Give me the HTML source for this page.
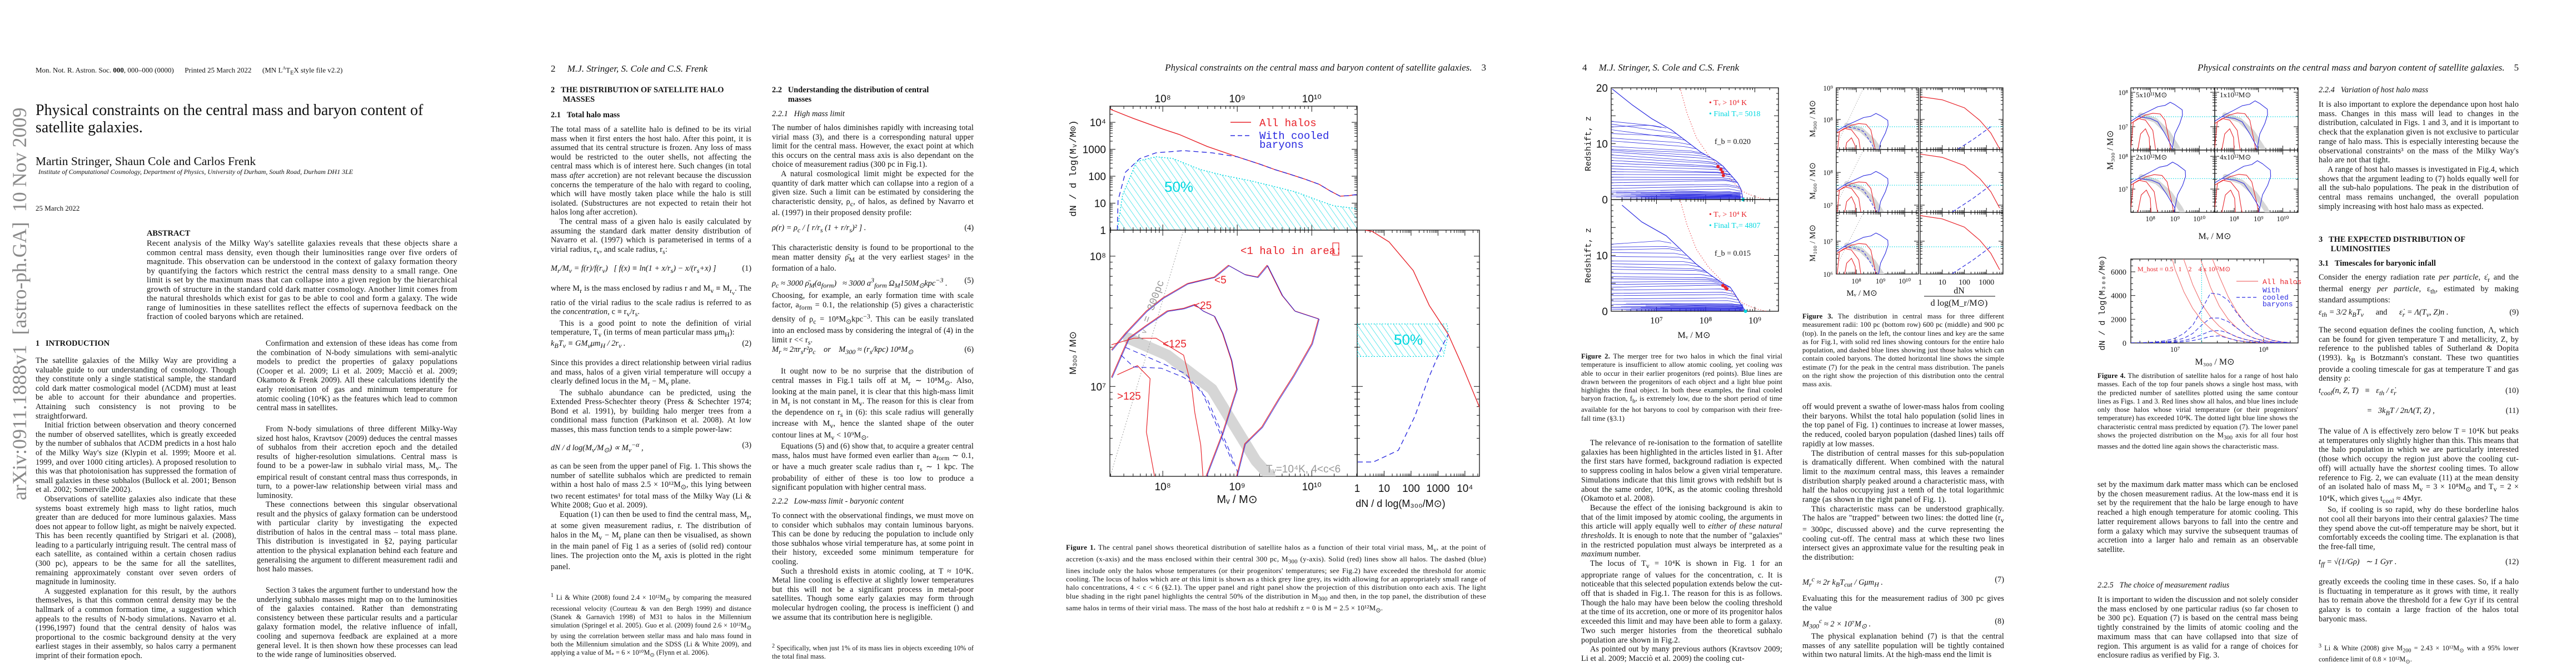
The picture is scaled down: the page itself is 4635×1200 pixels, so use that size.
<!DOCTYPE html>
<html><head><meta charset="utf-8">
<style>
body{margin:0;background:#fff;}
#page{position:relative;width:4635px;height:1200px;overflow:hidden;background:#fff;font-family:"Liberation Serif",serif;color:#111;}
.t{position:absolute;font-size:14.2px;letter-spacing:0.15px;line-height:16.6px;text-align:justify;hyphens:auto;}
.t p{margin:0;text-indent:16px;}
.t p.ni{text-indent:0;}
.cap{position:absolute;font-size:12.7px;letter-spacing:0.1px;line-height:15.3px;text-align:justify;}
.fn{position:absolute;font-size:12.1px;letter-spacing:0.1px;line-height:15.1px;text-align:justify;}
.h{position:absolute;font-size:14.4px;font-weight:bold;white-space:nowrap;}
.sh{position:absolute;font-size:14.4px;font-style:italic;white-space:nowrap;}
.eq{position:absolute;font-size:14.4px;white-space:nowrap;font-style:italic;}
.hdr{position:absolute;font-size:17px;font-style:italic;white-space:nowrap;}
svg text{font-family:"Liberation Sans",sans-serif;}
</style></head>
<body>
<div id="page">

<!-- PAGE 1 -->
<div style="position:absolute;left:64px;top:118px;font-size:13px;white-space:nowrap;">Mon. Not. R. Astron. Soc. <b>000</b>, 000–000 (0000) &nbsp;&nbsp;&nbsp;&nbsp; Printed 25 March 2022 &nbsp;&nbsp;&nbsp;&nbsp; (MN L<sup style="font-size:8px">A</sup>T<sub style="font-size:10px">E</sub>X style file v2.2)</div>
<div style="position:absolute;left:64px;top:183px;font-size:28px;line-height:31px;width:700px;">Physical constraints on the central mass and baryon content of satellite galaxies.</div>
<div style="position:absolute;left:64px;top:278px;font-size:21.5px;white-space:nowrap;">Martin Stringer, Shaun Cole and Carlos Frenk</div>
<div style="position:absolute;left:69px;top:302px;font-size:12px;font-style:italic;white-space:nowrap;">Institute of Computational Cosmology, Department of Physics, University of Durham, South Road, Durham DH1 3LE</div>
<div style="position:absolute;left:64px;top:367px;font-size:13px;">25 March 2022</div>
<div class="h" style="left:264px;top:412px;">ABSTRACT</div>
<div class="t" style="left:264px;top:430px;width:559px;line-height:16.5px;font-size:14.6px;letter-spacing:0.3px;"><p class="ni">Recent analysis of the Milky Way's satellite galaxies reveals that these objects share a common central mass density, even though their luminosities range over five orders of magnitude. This observation can be understood in the context of galaxy formation theory by quantifying the factors which restrict the central mass density to a small range. One limit is set by the maximum mass that can collapse into a given region by the hierarchical growth of structure in the standard cold dark matter cosmology. Another limit comes from the natural thresholds which exist for gas to be able to cool and form a galaxy. The wide range of luminosities in these satellites reflect the effects of supernova feedback on the fraction of cooled baryons which are retained.</p></div>
<div style="position:absolute;left:-275px;top:570px;width:620px;height:40px;transform:rotate(-90deg);font-size:36px;line-height:40px;color:#8a8a8a;white-space:nowrap;font-family:'Liberation Serif',serif;">arXiv:0911.1888v1 &nbsp;[astro-ph.GA] &nbsp;10 Nov 2009</div>
<div class="h" style="left:64px;top:610px;">1 &nbsp;&nbsp;INTRODUCTION</div>
<div class="t" style="left:64px;top:641px;width:361px;">
<p class="ni">The satellite galaxies of the Milky Way are providing a valuable guide to our understanding of cosmology. Though they constitute only a single statistical sample, the standard cold dark matter cosmological model (ΛCDM) must at least be able to account for their abundance and properties. Attaining such consistency is not proving to be straightforward.</p>
<p>Initial friction between observation and theory concerned the number of observed satellites, which is greatly exceeded by the number of subhalos that ΛCDM predicts in a host halo of the Milky Way's size (Klypin et al. 1999; Moore et al. 1999, and over 1000 citing articles). A proposed resolution to this was that photoionisation has suppressed the formation of small galaxies in these subhalos (Bullock et al. 2001; Benson et al. 2002; Somerville 2002).</p>
<p>Observations of satellite galaxies also indicate that these systems boast extremely high mass to light ratios, much greater than are deduced for more luminous galaxies. Mass does not appear to follow light, as might be naively expected. This has been recently quantified by Strigari et al. (2008), leading to a particularly intriguing result. The central mass of each satellite, as contained within a certain chosen radius (300 pc), appears to be the same for all the satellites, remaining approximately constant over seven orders of magnitude in luminosity.</p>
<p>A suggested explanation for this result, by the authors themselves, is that this common central density may be the hallmark of a common formation time, a suggestion which appeals to the results of N-body simulations. Navarro et al. (1996,1997) found that the central density of halos was proportional to the cosmic background density at the very earliest stages in their assembly, so halos carry a permanent imprint of their formation epoch.</p></div>
<div class="t" style="left:462px;top:610px;width:361px;"><p>Confirmation and extension of these ideas has come from the combination of N-body simulations with semi-analytic models to predict the properties of galaxy populations (Cooper et al. 2009; Li et al. 2009; Macciò et al. 2009; Okamoto &amp; Frenk 2009). All these calculations identify the early reionisation of gas and minimum temperature for atomic cooling (10⁴K) as the features which lead to common central mass in satellites.</p></div>
<div class="t" style="left:462px;top:764px;width:361px;"><p>From N-body simulations of three different Milky-Way sized host halos, Kravtsov (2009) deduces the central masses of subhalos from their accretion epoch and the detailed results of higher-resolution simulations. Central mass is found to be a power-law in subhalo virial mass, M<sub>v</sub>. The empirical result of constant central mass thus corresponds, in turn, to a power-law relationship between virial mass and luminosity.</p></div>
<div class="t" style="left:462px;top:900px;width:361px;"><p>These connections between this singular observational result and the physics of galaxy formation can be understood with particular clarity by investigating the expected distribution of halos in the central mass – total mass plane. This distribution is investigated in §2, paying particular attention to the physical explanation behind each feature and generalising the argument to different measurement radii and host halo masses.</p></div>
<div class="t" style="left:462px;top:1054px;width:361px;"><p>Section 3 takes the argument further to understand how the underlying subhalo masses might map on to the luminosities of the galaxies contained. Rather than demonstrating consistency between these particular results and a particular galaxy formation model, the relative influence of infall, cooling and supernova feedback are explained at a more general level. It is then shown how these processes can lead to the wide range of luminosities observed.</p></div>

<!-- PAGE 2 -->
<div class="hdr" style="left:991px;top:114px;"><span style="font-style:normal">2</span>&nbsp;&nbsp;&nbsp;&nbsp; M.J. Stringer, S. Cole and C.S. Frenk</div>
<div class="h" style="left:991px;top:154px;line-height:16.6px;">2 &nbsp;&nbsp;THE DISTRIBUTION OF SATELLITE HALO<br>&nbsp;&nbsp;&nbsp;&nbsp;&nbsp; MASSES</div>
<div class="h" style="left:991px;top:199px;">2.1 &nbsp;&nbsp;Total halo mass</div>
<div class="t" style="left:991px;top:225px;width:361px;">
<p class="ni">The total mass of a satellite halo is defined to be its virial mass when it first enters the host halo. After this point, it is assumed that its central structure is frozen. Any loss of mass would be restricted to the outer shells, not affecting the central mass which is of interest here. Such changes (in total mass <i>after</i> accretion) are not relevant because the discussion concerns the temperature of the halo with regard to cooling, which will have mostly taken place while the halo is still isolated. (Substructures are not expected to retain their hot halos long after accretion).</p>
<p>The central mass of a given halo is easily calculated by assuming the standard dark matter density distribution of Navarro et al. (1997) which is parameterised in terms of a virial radius, r<sub>v</sub>, and scale radius, r<sub>s</sub>:</p></div>
<div class="eq" style="left:991px;top:475px;width:361px;">M<sub>r</sub>/M<sub>v</sub> = f(r)/f(r<sub>v</sub>) &nbsp; [ f(x) ≡ ln(1 + x/r<sub>s</sub>) − x/(r<sub>s</sub>+x) ]<span style="position:absolute;right:0;font-style:normal">(1)</span></div>
<div class="t" style="left:991px;top:511px;width:361px;"><p class="ni">where M<sub>r</sub> is the mass enclosed by radius r and M<sub>v</sub> ≡ M<sub>r<sub>v</sub></sub>. The ratio of the virial radius to the scale radius is referred to as the <i>concentration</i>, c ≡ r<sub>v</sub>/r<sub>s</sub>.</p><p>This is a good point to note the definition of virial temperature, T<sub>v</sub> (in terms of mean particular mass μm<sub>H</sub>):</p></div>
<div class="eq" style="left:991px;top:610px;width:361px;">k<sub>B</sub>T<sub>v</sub> ≡ GM<sub>v</sub>μm<sub>H</sub> / 2r<sub>v</sub> .<span style="position:absolute;right:0;font-style:normal">(2)</span></div>
<div class="t" style="left:991px;top:645px;width:361px;"><p class="ni">Since this provides a direct relationship between virial radius and mass, halos of a given virial temperature will occupy a clearly defined locus in the M<sub>r</sub> − M<sub>v</sub> plane.</p><p>The subhalo abundance can be predicted, using the Extended Press-Schechter theory (Press &amp; Schechter 1974; Bond et al. 1991), by building halo merger trees from a conditional mass function (Parkinson et al. 2008). At low masses, this mass function tends to a simple power-law:</p></div>
<div class="eq" style="left:991px;top:793px;width:361px;">dN / d log(M<sub>v</sub>/M<sub>⊙</sub>) ∝ M<sub>v</sub><sup>−α</sup> ,<span style="position:absolute;right:0;font-style:normal">(3)</span></div>
<div class="t" style="left:991px;top:831px;width:361px;"><p class="ni">as can be seen from the upper panel of Fig. 1. This shows the number of satellite subhalos which are predicted to remain within a host halo of mass 2.5 × 10¹²M<sub>⊙</sub>, this lying between two recent estimates¹ for total mass of the Milky Way (Li &amp; White 2008; Guo et al. 2009).</p><p>Equation (1) can then be used to find the central mass, M<sub>r</sub>, at some given measurement radius, r. The distribution of halos in the M<sub>v</sub> − M<sub>r</sub> plane can then be visualised, as shown in the main panel of Fig 1 as a series of (solid red) contour lines. The projection onto the M<sub>r</sub> axis is plotted in the right panel.</p></div>
<div class="fn" style="left:991px;top:1064px;width:361px;"><sup>1</sup> Li &amp; White (2008) found 2.4 × 10¹²M<sub>⊙</sub> by comparing the measured recessional velocity (Courteau &amp; van den Bergh 1999) and distance (Stanek &amp; Garnavich 1998) of M31 to halos in the Millennium simulation (Springel et al. 2005). Guo et al. (2009) found 2.6 × 10¹²M<sub>⊙</sub> by using the correlation between stellar mass and halo mass found in both the Millennium simulation and the SDSS (Li &amp; White 2009), and applying a value of M<sub>*</sub> = 6 × 10¹⁰M<sub>⊙</sub> (Flynn et al. 2006).</div>

<div class="h" style="left:1389px;top:154px;line-height:16.6px;">2.2 &nbsp;&nbsp;Understanding the distribution of central<br>&nbsp;&nbsp;&nbsp;&nbsp;&nbsp;&nbsp;&nbsp; masses</div>
<div class="sh" style="left:1389px;top:197px;">2.2.1 &nbsp;&nbsp;High mass limit</div>
<div class="t" style="left:1389px;top:222px;width:363px;"><p class="ni">The number of halos diminishes rapidly with increasing total virial mass (3), and there is a corresponding natural upper limit for the central mass. However, the exact point at which this occurs on the central mass axis is also dependant on the choice of measurement radius (300 pc in Fig.1).</p><p>A natural cosmological limit might be expected for the quantity of dark matter which can collapse into a region of a given size. Such a limit can be estimated by considering the characteristic density, ρ<sub>c</sub>, of halos, as defined by Navarro et al. (1997) in their proposed density profile:</p></div>
<div class="eq" style="left:1389px;top:402px;width:363px;">ρ(r) = ρ<sub>c</sub> / [ r/r<sub>s</sub> (1 + r/r<sub>s</sub>)² ] .<span style="position:absolute;right:0;font-style:normal">(4)</span></div>
<div class="t" style="left:1389px;top:438px;width:363px;"><p class="ni">This characteristic density is found to be proportional to the mean matter density ρ̄<sub>M</sub> at the very earliest stages² in the formation of a halo.</p></div>
<div class="eq" style="left:1389px;top:497px;width:363px;">ρ<sub>c</sub> ≈ 3000 ρ̄<sub>M</sub>(a<sub>form</sub>) &nbsp; ≈ 3000 a<sup>3</sup><sub>form</sub> Ω<sub>M</sub>150M<sub>⊙</sub>kpc<sup>−3</sup> .<span style="position:absolute;right:0;font-style:normal">(5)</span></div>
<div class="t" style="left:1389px;top:524px;width:363px;"><p class="ni">Choosing, for example, an early formation time with scale factor, a<sub>form</sub> = 0.1, the relationship (5) gives a characteristic density of ρ<sub>c</sub> = 10⁸M<sub>⊙</sub>kpc<sup>−3</sup>. This can be easily translated into an enclosed mass by considering the integral of (4) in the limit r &lt;&lt; r<sub>s</sub>.</p></div>
<div class="eq" style="left:1389px;top:621px;width:363px;">M<sub>r</sub> ≈ 2πr<sub>s</sub>r²ρ<sub>c</sub> &nbsp;&nbsp; or &nbsp;&nbsp; M<sub>300</sub> ≈ (r<sub>s</sub>/kpc) 10⁸M<sub>⊙</sub><span style="position:absolute;right:0;font-style:normal">(6)</span></div>
<div class="t" style="left:1389px;top:660px;width:363px;"><p>It ought now to be no surprise that the distribution of central masses in Fig.1 tails off at M<sub>r</sub> ∼ 10⁸M<sub>⊙</sub>. Also, looking at the main panel, it is clear that this high-mass limit in M<sub>r</sub> is not constant in M<sub>v</sub>. The reason for this is clear from the dependence on r<sub>s</sub> in (6): this scale radius will generally increase with M<sub>v</sub>, hence the slanted shape of the outer contour lines at M<sub>v</sub> &lt; 10⁹M<sub>⊙</sub>.</p><p>Equations (5) and (6) show that, to acquire a greater central mass, halos must have formed even earlier than a<sub>form</sub> ∼ 0.1, or have a much greater scale radius than r<sub>s</sub> ∼ 1 kpc. The probability of either of these is too low to produce a significant population with higher central mass.</p></div>
<div class="sh" style="left:1389px;top:894px;">2.2.2 &nbsp;&nbsp;Low-mass limit - baryonic content</div>
<div class="t" style="left:1389px;top:920px;width:363px;"><p class="ni">To connect with the observational findings, we must move on to consider which subhalos may contain luminous baryons. This can be done by reducing the population to include only those subhalos whose virial temperature has, at some point in their history, exceeded some minimum temperature for cooling.</p><p>Such a threshold exists in atomic cooling, at T ≈ 10⁴K. Metal line cooling is effective at slightly lower temperatures but this will not be a significant process in metal-poor satellites. Though some early galaxies may form through molecular hydrogen cooling, the process is inefficient () and we assume that its contribution here is negligible.</p></div>
<div class="fn" style="left:1389px;top:1155px;width:363px;"><sup>2</sup> Specifically, when just 1% of its mass lies in objects exceeding 10% of the total final mass.</div>

<!-- PAGE 3 -->
<div class="hdr" style="right:1961px;top:112px;">Physical constraints on the central mass and baryon content of satellite galaxies. &nbsp;&nbsp;&nbsp;<span style="font-style:normal">3</span></div>
<div class="cap" style="left:1918px;top:977px;width:756px;font-size:13px;letter-spacing:0.25px;"><b>Figure 1.</b> The central panel shows theoretical distribution of satellite halos as a function of their total virial mass, M<sub>v</sub>, at the point of accretion (x-axis) and the mass enclosed within their central 300 pc, M<sub>300</sub> (y-axis). Solid (red) lines show all halos. The dashed (blue) lines include only the halos whose temperatures (or their progenitors' temperatures; see Fig.2) have exceeded the threshold for atomic cooling. The locus of halos which are <i>at</i> this limit is shown as a thick grey line grey, its width allowing for an appropriately small range of halo concentrations, 4 &lt; c &lt; 6 (§2.1). The upper panel and right panel show the projection of this distribution onto each axis. The light blue shading in the right panel highlights the central 50% of the distribution in M<sub>300</sub> and then, in the top panel, the distribution of these same halos in terms of their virial mass. The mass of the host halo at redshift z = 0 is M = 2.5 × 10¹²M<sub>⊙</sub>.</div>

<!-- PAGE 4 -->
<div class="hdr" style="left:2847px;top:112px;"><span style="font-style:normal">4</span>&nbsp;&nbsp;&nbsp;&nbsp; M.J. Stringer, S. Cole and C.S. Frenk</div>
<div class="cap" style="left:2845px;top:634px;width:362px;"><b>Figure 2.</b> The merger tree for two halos in which the final virial temperature is insufficient to allow atomic cooling, yet cooling <i>was</i> able to occur in their earlier progenitors (red points). Blue lines are drawn between the progenitors of each object and a light blue point highlights the final object. In both these examples, the final cooled baryon fraction, f<sub>b</sub>, is extremely low, due to the short period of time available for the hot baryons to cool by comparison with their free-fall time (§3.1)</div>
<div class="t" style="left:2845px;top:789px;width:362px;line-height:16.7px;"><p>The relevance of re-ionisation to the formation of satellite galaxies has been highlighted in the articles listed in §1. After the first stars have formed, background radiation is expected to suppress cooling in halos below a given virial temperature. Simulations indicate that this limit grows with redshift but is about the same order, 10⁴K, as the atomic cooling threshold (Okamoto et al. 2008).</p><p>Because the effect of the ionising background is akin to that of the limit imposed by atomic cooling, the arguments in this article will apply equally well to <i>either of these natural thresholds</i>. It is enough to note that the number of "galaxies" in the restricted population must always be interpreted as a <i>maximum</i> number.</p><p>The locus of T<sub>v</sub> = 10⁴K is shown in Fig. 1 for an appropriate range of values for the concentration, c. It is noticeable that this selected population extends below the cut-off that is shaded in Fig.1. The reason for this is as follows. Though the halo may have been below the cooling threshold at the time of its accretion, one or more of its progenitor halos exceeded this limit and may have been able to form a galaxy. Two such merger histories from the theoretical subhalo population are shown in Fig.2.</p><p>As pointed out by many previous authors (Kravtsov 2009; Li et al. 2009; Macciò et al. 2009) the cooling cut-</p></div>
<div class="cap" style="left:3243px;top:562px;width:363px;"><b>Figure 3.</b> The distribution in central mass for three different measurement radii: 100 pc (bottom row) 600 pc (middle) and 900 pc (top). In the panels on the left, the contour lines and key are the same as for Fig.1, with solid red lines showing contours for the entire halo population, and dashed blue lines showing just those halos which can contain cooled baryons. The dotted horizontal line shows the simple estimate (7) for the peak in the central mass distribution. The panels on the right show the projection of this distribution onto the central mass axis.</div>
<div class="t" style="left:3243px;top:724px;width:363px;line-height:16.7px;"><p class="ni">off would prevent a swathe of lower-mass halos from cooling their baryons. Whilst the total halo population (solid lines in the top panel of Fig. 1) continues to increase at lower masses, the reduced, cooled baryon population (dashed lines) tails off rapidly at low masses.</p><p>The distribution of central masses for this sub-population is dramatically different. When combined with the natural limit to the <i>maximum</i> central mass, this leaves a remainder distribution sharply peaked around a characteristic mass, with half the halos occupying just a tenth of the total logarithmic range (as shown in the right panel of Fig. 1).</p><p>This characteristic mass can be understood graphically. The halos are "trapped" between two lines: the dotted line (r<sub>v</sub> = 300pc, discussed above) and the curve representing the cooling cut-off. The central mass at which these two lines intersect gives an approximate value for the resulting peak in the distribution:</p></div>
<div class="eq" style="left:3243px;top:1035px;width:363px;">M<sub>r</sub><sup>c</sup> ≈ 2r k<sub>B</sub>T<sub>cut</sub> / Gμm<sub>H</sub> .<span style="position:absolute;right:0;font-style:normal">(7)</span></div>
<div class="t" style="left:3243px;top:1069px;width:363px;line-height:16.7px;"><p class="ni">Evaluating this for the measurement radius of 300 pc gives the value</p></div>
<div class="eq" style="left:3243px;top:1110px;width:363px;">M<sub>300</sub><sup>c</sup> ≈ 2 × 10⁷M<sub>⊙</sub> .<span style="position:absolute;right:0;font-style:normal">(8)</span></div>
<div class="t" style="left:3243px;top:1137px;width:363px;line-height:16.7px;"><p>The physical explanation behind (7) is that the central masses of any satellite population will be tightly contained within two natural limits. At the high-mass end the limit is</p></div>

<!-- PAGE 5 -->
<div class="hdr" style="right:103px;top:112px;">Physical constraints on the central mass and baryon content of satellite galaxies. &nbsp;&nbsp;&nbsp;<span style="font-style:normal">5</span></div>
<div class="cap" style="left:3774px;top:669px;width:361px;"><b>Figure 4.</b> The distribution of satellite halos for a range of host halo masses. Each of the top four panels shows a single host mass, with the predicted number of satellites plotted using the same contour lines as Figs. 1 and 3. Red lines show all halos, and blue lines include only those halos whose virial temperature (or their progenitors' temperature) has exceeded 10⁴K. The dotted light blue line shows the characteristic central mass predicted by equation (7). The lower panel shows the projected distribution on the M<sub>300</sub> axis for all four host masses and the dotted line again shows the characteristic mass.</div>
<div class="t" style="left:3774px;top:864px;width:361px;line-height:16.7px;"><p class="ni">set by the maximum dark matter mass which can be enclosed by the chosen measurement radius. At the low-mass end it is set by the requirement that the halo be large enough to have reached a high enough temperature for atomic cooling. This latter requirement allows baryons to fall into the centre and form a galaxy which may survive the subsequent traumas of accretion into a larger halo and remain as an observable satellite.</p></div>
<div class="sh" style="left:3774px;top:1045px;">2.2.5 &nbsp;&nbsp;The choice of measurement radius</div>
<div class="t" style="left:3774px;top:1071px;width:361px;line-height:16.7px;"><p class="ni">It is important to widen the discussion and not solely consider the mass enclosed by one particular radius (so far chosen to be 300 pc). Equation (7) is based on the central mass being tightly constrained by the limits of atomic cooling and the maximum mass that can have collapsed into that size of region. This argument is as valid for a range of choices for enclosure radius as verified by Fig. 3.</p></div>
<div class="sh" style="left:4172px;top:154px;">2.2.4 &nbsp;&nbsp;Variation of host halo mass</div>
<div class="t" style="left:4172px;top:180px;width:360px;line-height:16.7px;"><p class="ni">It is also important to explore the dependance upon host halo mass. Changes in this mass will lead to changes in the distribution, calculated in Figs. 1 and 3, and it is important to check that the explanation given is not exclusive to particular range of halo mass. This is especially interesting because the observational constraints³ on the mass of the Milky Way's halo are not that tight.</p><p>A range of host halo masses is investigated in Fig.4, which shows that the argument leading to (7) holds equally well for all the sub-halo populations. The peak in the distribution of central mass remains unchanged, the overall population simply increasing with host halo mass as expected.</p></div>
<div class="h" style="left:4172px;top:423px;line-height:16.6px;">3 &nbsp;&nbsp;THE EXPECTED DISTRIBUTION OF<br>&nbsp;&nbsp;&nbsp;&nbsp;&nbsp; LUMINOSITIES</div>
<div class="h" style="left:4172px;top:466px;">3.1 &nbsp;&nbsp;Timescales for baryonic infall</div>
<div class="t" style="left:4172px;top:491px;width:360px;line-height:16.7px;"><p class="ni">Consider the energy radiation rate <i>per particle</i>, ε̇<sub>r</sub> and the thermal energy <i>per particle</i>, ε<sub>th</sub>, estimated by making standard assumptions:</p></div>
<div class="eq" style="left:4172px;top:554px;width:360px;">ε<sub>th</sub> = 3/2 k<sub>B</sub>T<sub>v</sub> &nbsp;&nbsp;&nbsp;&nbsp; <span style="font-style:normal">and</span> &nbsp;&nbsp;&nbsp;&nbsp; ε̇<sub>r</sub> = Λ(T<sub>v</sub>, Z)n .<span style="position:absolute;right:0;font-style:normal">(9)</span></div>
<div class="t" style="left:4172px;top:586px;width:360px;line-height:16.7px;"><p class="ni">The second equation defines the cooling function, Λ, which can be found for given temperature T and metallicity, Z, by reference to the published tables of Sutherland &amp; Dopita (1993). k<sub>B</sub> is Botzmann's constant. These two quantities provide a cooling timescale for gas at temperature T and gas density ρ:</p></div>
<div class="eq" style="left:4172px;top:695px;width:360px;">t<sub>cool</sub>(n, Z, T) &nbsp;&nbsp;≡&nbsp;&nbsp; ε<sub>th</sub> / ε̇<sub>r</sub><span style="position:absolute;right:0;font-style:normal">(10)</span></div>
<div class="eq" style="left:4172px;top:731px;width:360px;">&nbsp;&nbsp;&nbsp;&nbsp;&nbsp;&nbsp;&nbsp;&nbsp;&nbsp;&nbsp;&nbsp;&nbsp;&nbsp;&nbsp;&nbsp;&nbsp;&nbsp;&nbsp;&nbsp;&nbsp;&nbsp;&nbsp;&nbsp; = &nbsp; 3k<sub>B</sub>T / 2nΛ(T, Z) ,<span style="position:absolute;right:0;font-style:normal">(11)</span></div>
<div class="t" style="left:4172px;top:768px;width:360px;line-height:16.7px;"><p class="ni">The value of Λ is effectively zero below T = 10⁴K but peaks at temperatures only slightly higher than this. This means that the halo population in which we are particularly interested (those which occupy the region just above the cooling cut-off) will actually have the <i>shortest</i> cooling times. To allow reference to Fig. 2, we can evaluate (11) at the mean density of an isolated halo of mass M<sub>v</sub> = 3 × 10⁸M<sub>⊙</sub> and T<sub>v</sub> = 2 × 10⁴K, which gives t<sub>cool</sub> ≈ 4Myr.</p><p>So, if cooling is so rapid, why do these borderline halos not cool all their baryons into their central galaxies? The time they spend above the cut-off temperature may be short, but it comfortably exceeds the cooling time. The explanation is that the free-fall time,</p></div>
<div class="eq" style="left:4172px;top:1003px;width:360px;">t<sub>ff</sub> = √(1/Gρ) &nbsp; ∼ 1 Gyr .<span style="position:absolute;right:0;font-style:normal">(12)</span></div>
<div class="t" style="left:4172px;top:1039px;width:360px;line-height:16.7px;"><p class="ni">greatly exceeds the cooling time in these cases. So, if a halo is fluctuating in temperature as it grows with time, it really has to remain above the threshold for a few Gyr if its central galaxy is to contain a large fraction of the halos total baryonic mass.</p></div>
<div class="fn" style="left:4172px;top:1155px;width:360px;"><sup>3</sup> Li &amp; White (2008) give M<sub>200</sub> = 2.43 × 10¹²M<sub>⊙</sub> with a 95% lower confidence limit of 0.8 × 10¹²M<sub>⊙</sub>.</div>

<svg id="figures" width="4635" height="1200" style="position:absolute;left:0;top:0;" xmlns="http://www.w3.org/2000/svg">
<defs>
<pattern id="hatch" patternUnits="userSpaceOnUse" width="9" height="9" patternTransform="rotate(-35)"><line x1="0" y1="0" x2="0" y2="9" stroke="#00d8e0" stroke-width="1.2"/></pattern>
</defs>
</svg>
</div>

<script>
// ---------------- DATA ----------------
const fig1AllHalos = [[7.29,4.49],[7.6,4.15],[8.0,3.75],[8.22,3.55],[8.6,3.1],[9.0,2.72],[9.3,2.45],[9.5,2.25],[9.7,2.08],[9.9,1.9],[10.1,1.7],[10.25,1.45],[10.38,1.26],[10.5,1.28],[10.6,1.32]];
const fig1Cooled = [[7.39,0],[7.4,1.1],[7.5,2.15],[7.69,2.65],[7.91,2.87],[8.28,2.95],[8.66,2.87],[9.0,2.72],[9.3,2.45],[9.5,2.25],[9.7,2.08],[9.9,1.9],[10.1,1.7],[10.25,1.45],[10.38,1.26],[10.5,1.28],[10.6,1.32]];
const fig1Central50 = [[7.39,0],[7.46,1.3],[7.65,2.55],[7.91,2.72],[8.13,2.66],[8.5,2.25],[8.8,2.04],[9.18,1.83],[9.48,1.63],[9.78,1.42],[10.08,1.11],[10.3,0.9],[10.6,0.8]];
const fig1TopXTicks = [8,9,10];
const fig1TopXLabels = ['10⁸','10⁹','10¹⁰'];
const fig1TopYTicks = [0,1,2,3,4];
const fig1TopYLabels = ['1','10','100','1000','10⁴'];
const fig1Contour5 = [[7.31,7.28],[7.50,7.41],[7.78,7.58],[8.0,7.68],[8.33,7.79],[8.69,7.84],[8.88,7.93],[9.10,7.86],[9.27,7.84],[9.40,7.93],[9.60,7.70],[9.77,7.58],[10.09,7.52],[10.0,7.33],[9.75,7.08],[9.55,6.90],[9.33,6.69],[9.10,6.56],[8.99,6.31]];
const fig1Contour25 = [[7.31,7.07],[7.54,7.37],[7.78,7.47],[8.06,7.58],[8.28,7.60],[8.43,7.63],[8.54,7.58],[8.69,7.54],[8.80,7.41],[8.92,7.20],[8.99,6.98],[8.80,6.64],[8.58,6.31]];
const fig1Contour125 = [[7.31,7.32],[7.61,7.37],[7.91,7.37],[8.28,7.24],[8.39,6.99],[8.43,6.80],[8.51,6.55],[8.54,6.31]];
const fig1ContourOver125 = [[7.39,7.09],[7.66,7.16],[7.83,7.06],[7.78,6.65],[7.89,6.31]];
const fig1CooledContourA = [[7.44,7.24],[7.61,7.15],[7.98,7.14],[8.28,7.07],[8.51,6.98],[8.80,6.60],[8.95,6.40]];
const fig1CooledContourB = [[7.5,7.30],[7.9,7.2],[8.3,7.1],[8.6,6.9],[8.9,6.5],[9.0,6.35]];
const fig1CoolingLocus = [[7.54,7.37],[8.06,7.24],[8.66,6.98],[9.25,6.43],[9.44,6.31]];
const fig1Rv300 = [[7.31,6.34],[8.28,8.2]];
const fig1MainYTicks = [7,8];
const fig1MainYLabels = ['10⁷','10⁸'];
const fig1RightAll = [[0.3,8.2],[0.56,8.19],[1.18,8.11],[2.08,7.89],[2.68,7.62],[3.38,7.40],[3.92,7.15],[4.56,6.83]];
const fig1RightCooled = [[0.02,6.42],[0.6,6.42],[1.53,6.51],[2.14,6.77],[2.66,7.07],[3.18,7.32],[3.38,7.40]];
const fig1RightBand = [[0,7.23],[3.2,7.23],[3.38,7.40],[3.34,7.48],[0,7.48]];
const fig1RightXTicks = [0,1,2,3,4];
const fig1RightXLabels = ['1','10','100','1000','10⁴'];
const fig2TrunkA = [[6.1,19.8],[6.5,17],[6.9,14.5],[7.3,12.5],[7.6,10.5],[7.9,8.5],[8.2,7],[8.35,6],[8.45,5],[8.55,4],[8.65,3],[8.72,1.8],[8.76,0]];
const fig2BranchesA = [[14,7.2,12.8],[13.5,7.4,11.8],[13,7.1,12.9],[12.5,7.6,10.6],[11.8,7.5,11],[11,7.7,9.8],[10.5,7.8,9.1],[9.5,7.95,8.3],[9,8.0,8.0],[8.8,8.1,7.5],[8.5,8.2,7.0],[8,8.3,6.4],[7.5,8.33,6.1],[7,8.38,5.6],[6.5,8.4,5.4],[6,8.45,5],[5.5,8.5,4.5],[5,8.5,4.4],[4.5,8.55,4],[4,8.6,3.5],[3.5,8.62,3.2],[3,8.65,3],[2.5,8.68,2.3],[2,8.7,2],[1.5,8.72,1.5],[1.2,8.74,1],[0.8,8.75,0.5],[0.5,8.76,0.3]];
const fig2HotA = [[8.25,5.9],[8.31,5.4],[8.34,4.9],[8.36,4.3]];
const fig2FinalA = [8.76,0];
const fig2TrunkB = [[6.3,19],[6.7,16],[7.2,13.5],[7.5,11],[7.8,8.5],[8.1,6.5],[8.35,5],[8.5,4.3],[8.6,3],[8.7,1.5],[8.81,0]];
const fig2BranchesB = [[12,7.3,12.2],[11.5,7.45,11.2],[11,7.5,10.8],[10.5,7.6,10],[9.8,7.7,9.3],[9,7.8,8.5],[8.5,7.9,7.9],[8,8.0,7.2],[7.5,8.05,6.9],[6.8,8.15,6.2],[6.2,8.25,5.6],[5.8,8.3,5.3],[5.2,8.35,5],[4.8,8.45,4.6],[4.3,8.5,4.3],[3.8,8.55,3.6],[3.2,8.6,3],[2.8,8.63,2.6],[2.2,8.67,2],[1.8,8.7,1.5],[1.2,8.74,1],[0.7,8.77,0.6],[0.3,8.8,0.2]];
const fig2HotB = [[8.35,4.6],[8.4,4.3],[8.43,4.0]];
const fig2FinalB = [8.81,0];
const fig2Cutoff = [[7.48,20],[7.62,15.5],[7.81,11.1],[8.05,8],[8.32,5.5],[8.55,3.2],[8.74,1.5],[9.0,0.5],[9.23,0]];
const fig2XTicks = [7,8,9];
const fig2XLabels = ['10⁷','10⁸','10⁹'];
const fig2FinalT = ['5018','4807'];
const fig2Fb = ['0.020','0.015'];
const shapeBlue = [[7.2,-0.13],[7.6,0.05],[7.9,0.15],[8.3,0.29],[8.6,0.33],[8.81,0.42],[9.0,0.35],[9.3,0.2],[9.31,0.05],[9.2,-0.2],[9.0,-0.5],[8.9,-0.9],[8.8,-1.3]];
const shapeRed1 = [[7.2,-0.9],[7.3,-0.15],[7.8,0.05],[8.1,0.1],[8.4,0.08],[8.6,-0.1],[8.8,-0.8],[8.9,-1.3]];
const shapeRed2 = [[7.2,-0.2],[7.5,-0.05],[7.8,-0.1],[8.1,-0.4],[8.2,-0.9],[8.3,-1.3]];
const shapeRed3 = [[7.4,-1.3],[7.6,-0.5],[7.8,-0.35],[7.95,-0.6],[8.0,-1.3]];
const shapeBand = [[7.6,0.05],[8.2,-0.1],[8.7,-0.45],[9.1,-0.9],[9.3,-1.2]];
const shapeBlueInner = [[7.5,0],[8.0,-0.05],[8.3,-0.15],[8.6,-0.5],[8.9,-0.9]];
const fig3CharMass = [7.77,7.61,6.83];
const fig3RowTop = [9.0,8.7,7.88];
const fig3RowBottom = [7.05,6.78,6.0];
const fig3RowLabels = ['M₉₀₀ / M⊙','M₆₀₀ / M⊙','M₁₀₀ / M⊙'];
const fig3YTickVals = [[9,8],[8,7],[7,6]];
const fig3YTickLabels = [['10⁹','10⁸'],['10⁸','10⁷'],['10⁷','10⁶']];
const fig3ProjAll = [[0,0.95],[1,0.85],[2,0.6],[2.7,0.2],[3.2,-0.2],[3.6,-0.7]];
const fig3ProjCooled = [[0.5,-1.2],[1.5,-0.8],[2.4,-0.4],[3.0,-0.1],[3.2,0]];
const fig3XTicks = [8,9,10];
const fig3XLabels = ['10⁸','10⁹','10¹⁰'];
const fig3ProjXTicks = [0,1,2,3];
const fig3ProjXLabels = ['1','10','100','1000'];
const fig4HostLabels = ['5x10¹¹M⊙','1x10¹²M⊙','2x10¹²M⊙','4x10¹²M⊙'];
const fig4CharMass = [7.29,7.29,7.32,7.32];
const fig4Broaden = [0,0.1,0.2,0.3];
const fig4Bins = [6.5,6.6,6.7,6.8,6.9,7.0,7.1,7.2,7.3,7.4,7.5,7.6,7.7,7.8,7.9,8.0,8.1,8.2,8.3];
const fig4AllA = [40000,25000,17000,12000,9000,6200,4300,2900,1900,1200,700,400,200,100,50,20,10,5,2];
const fig4AllB = [70000,45000,28000,18000,12000,9000,7000,4900,3300,2200,1400,850,500,280,140,70,30,10,5];
const fig4AllC = [90000,60000,40000,26000,17000,13000,10000,9000,6800,4700,3100,2000,1250,700,380,190,80,30,10];
const fig4AllD = [120000,80000,55000,38000,27000,20000,15000,11000,9000,7500,5600,3900,2600,1600,900,480,220,90,30];
const fig4CoolA = [1,3,6,12,25,50,100,200,350,550,600,400,200,100,50,20,10,5,2];
const fig4CoolB = [2,5,10,25,50,100,200,400,700,1000,1050,850,500,280,140,70,30,10,5];
const fig4CoolC = [3,8,20,50,100,200,400,800,1500,2100,2100,1800,1250,700,380,190,80,30,10];
const fig4CoolD = [5,15,40,100,200,400,800,1500,2800,4200,4100,3600,2500,1600,900,480,220,90,30];
const fig4CharLine = 7.3;
const fig4YTicks = [0,2000,4000,6000];
const fig4XTicks = [7,8];
const fig4XLabels = ['10⁷','10⁸'];

// ---------------- DRAWING ----------------
const NS='http://www.w3.org/2000/svg';
const root=document.getElementById('figures');
let clipN=0;
function mk(tag,parent){const e=document.createElementNS(NS,tag);parent.appendChild(e);return e;}
function lin(d0,d1,p0,p1){return v=>p0+(v-d0)/(d1-d0)*(p1-p0);}
function group(parent,name){const g=mk('g',parent);


return g;}
function clipped(parent,name,x0,y0,x1,y1){
  const id='clip'+(clipN++);
  const cp=mk('clipPath',root.querySelector('defs'));cp.setAttribute('id',id);
  const r=mk('rect',cp);r.setAttribute('x',x0);r.setAttribute('y',y0);r.setAttribute('width',x1-x0);r.setAttribute('height',y1-y0);
  const g=group(parent,name);g.setAttribute('clip-path','url(#'+id+')');return g;}
function poly(g,name,pts,X,Y,color,w,dash){const p=mk('polyline',g);


p.setAttribute('points',pts.map(q=>X(q[0]).toFixed(1)+','+Y(q[1]).toFixed(1)).join(' '));
p.setAttribute('fill','none');p.setAttribute('stroke',color);p.setAttribute('stroke-width',w);p.setAttribute('stroke-linejoin','round');
if(dash)p.setAttribute('stroke-dasharray',dash);return p;}
function area(g,name,pts,X,Y,fill){const p=mk('polygon',g);


p.setAttribute('points',pts.map(q=>X(q[0]).toFixed(1)+','+Y(q[1]).toFixed(1)).join(' '));
p.setAttribute('fill',fill);return p;}
function txt(g,name,x,y,s,size,anchor,color,family,rot){const t=mk('text',g);


t.setAttribute('x',x);t.setAttribute('y',y);t.setAttribute('font-size',size);t.setAttribute('text-anchor',anchor||'start');t.setAttribute('fill',color||'#111');
if(family)t.style.fontFamily=family;
if(rot)t.setAttribute('transform','rotate('+rot+' '+x+' '+y+')');
t.textContent=s;return t;}
function seg(g,x1,y1,x2,y2,c,w){const l=mk('line',g);l.setAttribute('x1',x1);l.setAttribute('y1',y1);l.setAttribute('x2',x2);l.setAttribute('y2',y2);l.setAttribute('stroke',c||'#111');l.setAttribute('stroke-width',w||1);return l;}
function ticksLog(g,lo,hi){const out=[];for(let d=Math.floor(lo);d<=Math.ceil(hi);d++){for(let k=1;k<10;k++){const v=d+Math.log10(k);if(v>=lo&&v<=hi)out.push([v,k===1]);}}return out;}
function ticksLin(lo,hi,minor,major){const out=[];for(let v=Math.ceil(lo/minor)*minor;v<=hi+1e-9;v+=minor){out.push([v,Math.abs(v/major-Math.round(v/major))<1e-6]);}return out;}
function panel(parent,name,x0,y0,x1,y1,xlo,xhi,ylo,yhi,xt,yt,len){
  const g=group(parent,name);
  const X=lin(xlo,xhi,x0,x1),Y=lin(ylo,yhi,y1,y0);
  const L=len||5;
  const tg=group(g,name+'-ticks');
  xt.forEach(([v,maj])=>{const x=X(v),l=maj?L*2:L;seg(tg,x,y1,x,y1-l);seg(tg,x,y0,x,y0+l);});
  yt.forEach(([v,maj])=>{const y=Y(v),l=maj?L*2:L;seg(tg,x0,y,x0+l,y);seg(tg,x1,y,x1-l,y);});
  const r=mk('rect',g);
  
  
  r.setAttribute('x',x0);r.setAttribute('y',y0);r.setAttribute('width',x1-x0);r.setAttribute('height',y1-y0);r.setAttribute('fill','none');r.setAttribute('stroke','#111');r.setAttribute('stroke-width',1.3);
  return {g,X,Y};
}
const RED='#e8232a',BLUE='#2a2ae0',CYAN='#00d8e0',GREY='#d6d6d6';

// ===== Figure 1 =====
const f1=group(root,'figure1');
{
 const p=panel(f1,'fig1-top-panel',1997,191,2442,414,7.29,10.61,0,4.6,ticksLog(null,7.29,10.61),ticksLog(null,0,4.6),5);
 const c=clipped(p.g,'fig1-top-plot',1997,191,2442,414);
 area(c,'fig1-central50-hatch',fig1Central50.concat([[10.6,0],[7.39,0]]),p.X,p.Y,'url(#hatch)');
 poly(c,'fig1-central50-outline',fig1Central50,p.X,p.Y,CYAN,1.6,'2 3');
 poly(c,'fig1-all-halos-line',fig1AllHalos,p.X,p.Y,RED,1.4);
 poly(c,'fig1-cooled-line',fig1Cooled,p.X,p.Y,BLUE,1.4,'9 6');
 txt(f1,'fig1-50pct-label',2095,345,'50%',26,'start',CYAN,'"Liberation Sans Narrow","Liberation Sans",sans-serif');
 fig1TopXTicks.forEach((v,i)=>txt(f1,'fig1-top-xtick-label',p.X(v),184,fig1TopXLabels[i],19,'middle','#111','"Liberation Sans Narrow","Liberation Sans",sans-serif'));
 fig1TopYTicks.forEach((v,i)=>txt(f1,'fig1-top-ytick-label',1990,p.Y(v)+7,fig1TopYLabels[i],19,'end','#111','"Liberation Sans Narrow","Liberation Sans",sans-serif'));
 txt(f1,'fig1-top-ytitle',1936,303,'dN  / d  log(Mᵥ/M⊙)',17,'middle','#111','"Liberation Mono",monospace',-90);
 seg(f1,2214,220,2251,220,RED,1.6);
 txt(f1,'fig1-legend-all',2266,227,'All halos',19,'start',RED,'"Liberation Mono",monospace');
 const dl=seg(f1,2214,244,2251,244,BLUE,1.6);dl.setAttribute('stroke-dasharray','8 5');
 txt(f1,'fig1-legend-cooled-1',2266,250,'With cooled',19,'start',BLUE,'"Liberation Mono",monospace');
 txt(f1,'fig1-legend-cooled-2',2266,266,'baryons',19,'start',BLUE,'"Liberation Mono",monospace');

 const m=panel(f1,'fig1-main-panel',1997,414,2442,857,7.29,10.61,6.31,8.2,ticksLog(null,7.29,10.61),ticksLog(null,6.31,8.2),5);
 const mc=clipped(m.g,'fig1-main-plot',1997,414,2442,857);
 const band=poly(mc,'fig1-cooling-locus-band',fig1CoolingLocus,m.X,m.Y,GREY,20);band.setAttribute('stroke-linecap','round');
 poly(mc,'fig1-rv300-line',fig1Rv300,m.X,m.Y,'#999',1,'2 3');
 [fig1Contour5,fig1Contour25].forEach((cc,i)=>{poly(mc,'fig1-contour-all',cc,m.X,m.Y,RED,1.2);poly(mc,'fig1-contour-cooled',cc.map(q=>[q[0]+0.01,q[1]-0.004]),m.X,m.Y,BLUE,1.0);});
 poly(mc,'fig1-contour-125',fig1Contour125,m.X,m.Y,RED,1.2);
 poly(mc,'fig1-contour-over125',fig1ContourOver125,m.X,m.Y,RED,1.2);
 poly(mc,'fig1-cooled-contour-a',fig1CooledContourA,m.X,m.Y,BLUE,1.2,'9 6');
 poly(mc,'fig1-cooled-contour-b',fig1CooledContourB,m.X,m.Y,BLUE,1.2,'9 6');
 txt(f1,'fig1-rv300-label',2075,560,'rᵥ = 300pc',19,'middle','#999','"Liberation Mono",monospace',-70);
 txt(f1,'fig1-one-halo-label',2232,457,'<1 halo in area:',19,'start',RED,'"Liberation Mono",monospace');
 const rr=mk('rect',f1);rr.setAttribute('x',2398);rr.setAttribute('y',437);rr.setAttribute('width',11);rr.setAttribute('height',22);rr.setAttribute('fill','none');rr.setAttribute('stroke',RED);rr.setAttribute('stroke-width',1.2);
 txt(f1,'fig1-label-5',2185,510,'<5',19,'start',RED,'"Liberation Sans Narrow",sans-serif');
 txt(f1,'fig1-label-25',2148,556,'<25',19,'start',RED,'"Liberation Sans Narrow",sans-serif');
 txt(f1,'fig1-label-125',2092,625,'<125',19,'start',RED,'"Liberation Sans Narrow",sans-serif');
 txt(f1,'fig1-label-over125',2010,719,'>125',19,'start',RED,'"Liberation Sans Narrow",sans-serif');
 txt(f1,'fig1-locus-label',2278,850,'Tᵥ=10⁴K, 4<c<6',19,'start','#999','"Liberation Sans Narrow",sans-serif');
 fig1MainYTicks.forEach((v,i)=>txt(f1,'fig1-main-ytick-label',1990,m.Y(v)+7,fig1MainYLabels[i],19,'end','#111','"Liberation Sans Narrow","Liberation Sans",sans-serif'));
 fig1TopXTicks.forEach((v,i)=>txt(f1,'fig1-main-xtick-label',m.X(v),882,fig1TopXLabels[i],19,'middle','#111','"Liberation Sans Narrow","Liberation Sans",sans-serif'));
 txt(f1,'fig1-main-ytitle',1936,635,'M₃₀₀  /  M⊙',17,'middle','#111','"Liberation Sans",sans-serif',-90);
 txt(f1,'fig1-main-xtitle',2226,905,'Mᵥ  /  M⊙',20,'middle','#111','"Liberation Sans Narrow","Liberation Sans",sans-serif');

 const r=panel(f1,'fig1-right-panel',2442,414,2662,857,0,4.54,6.31,8.2,ticksLog(null,0,4.54),ticksLog(null,6.31,8.2),5);
 const rc=clipped(r.g,'fig1-right-plot',2442,414,2662,857);
 area(rc,'fig1-right-central50',fig1RightBand,r.X,r.Y,'url(#hatch)');
 poly(rc,'fig1-right-central50-outline',fig1RightBand.concat([fig1RightBand[0]]),r.X,r.Y,CYAN,1.3,'2 3');
 poly(rc,'fig1-right-all-line',fig1RightAll,r.X,r.Y,RED,1.4);
 poly(rc,'fig1-right-cooled-line',fig1RightCooled,r.X,r.Y,BLUE,1.4,'9 6');
 txt(f1,'fig1-right-50pct-label',2508,620,'50%',26,'start',CYAN,'"Liberation Sans Narrow",sans-serif');
 fig1RightXTicks.forEach((v,i)=>txt(f1,'fig1-right-xtick-label',r.X(v),885,fig1RightXLabels[i],19,'middle','#111','"Liberation Sans Narrow","Liberation Sans",sans-serif'));
 txt(f1,'fig1-right-xtitle',2520,912,'dN / d log(M₃₀₀/M⊙)',18,'middle','#111','"Liberation Sans Narrow","Liberation Sans",sans-serif');
}

// ===== Figure 2 =====
const f2=group(root,'figure2');
[[158,359,fig2TrunkA,fig2BranchesA,fig2HotA,fig2FinalA],[359,560,fig2TrunkB,fig2BranchesB,fig2HotB,fig2FinalB]].forEach((cfg,k)=>{
 const [y0,y1,trunk,branches,hot,fin]=cfg;
 const p=panel(f2,'fig2-panel-'+(k+1),2899,y0,3200,y1,6.08,9.48,0,20,ticksLog(null,6.08,9.48),ticksLin(0,20,1,5),4);
 const c=clipped(p.g,'fig2-plot-'+(k+1),2899,y0,3200,y1);
 poly(c,'fig2-cooling-cutoff',fig2Cutoff,p.X,p.Y,RED,1,'1.5 3');
 branches.forEach(b=>{poly(c,'fig2-branch',[[6.08,b[0]],[b[1]-0.25,b[2]+0.4],[b[1],b[2]]],p.X,p.Y,BLUE,0.8);
   poly(c,'fig2-branch-low',[[6.08+(b[0]%1.3),Math.max(0.15,b[2]*0.12)],[fin[0]-0.05,Math.max(0.1,b[2]*0.1)]],p.X,p.Y,BLUE,0.5);});
 poly(c,'fig2-trunk',trunk,p.X,p.Y,BLUE,1.2);
 hot.forEach(h=>{const d=mk('circle',c);
  
  
  d.setAttribute('cx',p.X(h[0]));d.setAttribute('cy',p.Y(h[1]));d.setAttribute('r',3);d.setAttribute('fill',RED);});
 const f=mk('circle',f2);
 
 
 f.setAttribute('cx',p.X(fin[0]));f.setAttribute('cy',p.Y(fin[1]));f.setAttribute('r',3);f.setAttribute('fill',CYAN);
 txt(f2,'fig2-ytick-label',2893,p.Y(10)+7,'10',19,'end','#111','"Liberation Sans Narrow",sans-serif');
 txt(f2,'fig2-ytick-label',2893,p.Y(0)+7,'0',19,'end','#111','"Liberation Sans Narrow",sans-serif');
 if(k===0)txt(f2,'fig2-ytick-label',2893,p.Y(20)+7,'20',19,'end','#111','"Liberation Sans Narrow",sans-serif');
 txt(f2,'fig2-ytitle',2862,(y0+y1)/2,'Redshift, z',15,'middle','#111','"Liberation Mono",monospace',-90);
 txt(f2,'fig2-legend-hot',3075,y0+31,'• Tᵥ > 10⁴ K',14,'start',RED,'"Liberation Serif",serif');
 txt(f2,'fig2-legend-final',3075,y0+51,'• Final Tᵥ= '+fig2FinalT[k],14,'start',CYAN,'"Liberation Serif",serif');
 txt(f2,'fig2-fb-label',3085,y0+101,'f_b  =  '+fig2Fb[k],14,'start','#111','"Liberation Serif",serif');
});
fig2XTicks.forEach((v,i)=>txt(f2,'fig2-xtick-label',lin(6.08,9.48,2899,3200)(v),582,fig2XLabels[i],17,'middle','#111','"Liberation Serif",serif'));
txt(f2,'fig2-xtitle',3048,608,'Mᵥ  /  M⊙',16,'middle','#111','"Liberation Serif",serif');

// ===== Figure 3 =====
const f3=group(root,'figure3');
const fig3Y=[[158,269],[269,382],[382,493]];
fig3Y.forEach((yy,k)=>{
 const lo=fig3RowBottom[k],hi=fig3RowTop[k],cm=fig3CharMass[k];
 const L=panel(f3,'fig3-left-panel-'+(k+1),3304,yy[0],3452,yy[1],7.17,10.57,lo,hi,ticksLog(null,7.17,10.57),ticksLog(null,lo,hi),4);
 const c=clipped(L.g,'fig3-left-plot-'+(k+1),3304,yy[0],3452,yy[1]);
 const sh=a=>a.map(q=>[q[0],q[1]+cm]);
 const b=poly(c,'fig3-cooling-band',sh(shapeBand),L.X,L.Y,GREY,9);b.setAttribute('stroke-linecap','round');
 poly(c,'fig3-rv-line',[[7.17,cm-0.6],[8.3,hi]],L.X,L.Y,'#aaa',1,'1.5 2.5');
 poly(c,'fig3-char-mass-line',[[7.17,cm],[10.57,cm]],L.X,L.Y,CYAN,1.2,'1.5 2.5');
 poly(c,'fig3-red-contour',sh(shapeRed1),L.X,L.Y,RED,1.1);
 poly(c,'fig3-red-contour',sh(shapeRed2),L.X,L.Y,RED,1.1);
 poly(c,'fig3-red-contour',sh(shapeRed3),L.X,L.Y,RED,1.1);
 poly(c,'fig3-blue-contour',sh(shapeBlue),L.X,L.Y,BLUE,1.1);
 poly(c,'fig3-blue-inner',sh(shapeBlueInner),L.X,L.Y,BLUE,1.1,'5 3');
 fig3YTickVals[k].forEach((v,i)=>txt(f3,'fig3-ytick-label',3298,L.Y(v)+5,fig3YTickLabels[k][i],13,'end','#111','"Liberation Serif",serif'));
 txt(f3,'fig3-ytitle',3266,(yy[0]+yy[1])/2,fig3RowLabels[k],15,'middle','#111','"Liberation Serif",serif',-90);
 const R=panel(f3,'fig3-right-panel-'+(k+1),3455,yy[0],3604,yy[1],0,3.75,lo,hi,ticksLog(null,0,3.75),ticksLog(null,lo,hi),4);
 const rc=clipped(R.g,'fig3-right-plot-'+(k+1),3455,yy[0],3604,yy[1]);
 poly(rc,'fig3-char-mass-line',[[0,cm],[3.75,cm]],R.X,R.Y,CYAN,1.2,'1.5 2.5');
 poly(rc,'fig3-proj-all',sh(fig3ProjAll),R.X,R.Y,RED,1.2);
 poly(rc,'fig3-proj-cooled',sh(fig3ProjCooled),R.X,R.Y,BLUE,1.2,'7 4');
});
fig3XTicks.forEach((v,i)=>txt(f3,'fig3-xtick-label',lin(7.17,10.57,3304,3452)(v),510,fig3XLabels[i],13,'middle','#111','"Liberation Serif",serif'));
fig3ProjXTicks.forEach((v,i)=>txt(f3,'fig3-proj-xtick-label',lin(0,3.75,3455,3604)(v),512,fig3ProjXLabels[i],14,'middle','#111','"Liberation Serif",serif'));
txt(f3,'fig3-xtitle',3350,532,'Mᵥ  /  M⊙',15,'middle','#111','"Liberation Serif",serif');
txt(f3,'fig3-proj-xtitle-num',3525,528,'dN',16,'middle','#111','"Liberation Serif",serif');
seg(f3,3462,533,3590,533,'#111',1);
txt(f3,'fig3-proj-xtitle-den',3525,550,'d log(M_r/M⊙)',16,'middle','#111','"Liberation Serif",serif');

// ===== Figure 4 top =====
const f4=group(root,'figure4');
const f4Pos=[[3834,158,3985,270],[3985,158,4135,270],[3834,270,3985,382],[3985,270,4135,382]];
const f4Y=[[6.32,8.13],[6.32,8.13],[6.29,8.19],[6.29,8.19]];
f4Pos.forEach((pp,k)=>{
 const [x0,y0,x1,y1]=pp,[lo,hi]=f4Y[k],cm=fig4CharMass[k],br=fig4Broaden[k];
 const P=panel(f4,'fig4-host-panel-'+(k+1),x0,y0,x1,y1,7.2,10.63,lo,hi,ticksLog(null,7.2,10.63),ticksLog(null,lo,hi),4);
 const c=clipped(P.g,'fig4-host-plot-'+(k+1),x0,y0,x1,y1);
 const sh=a=>a.map(q=>[q[0]+(q[0]-7.2)*br*0.3,q[1]+cm+(q[1]>0?q[1]*br:0)]);
 const b=poly(c,'fig4-cooling-band',sh(shapeBand),P.X,P.Y,GREY,9);b.setAttribute('stroke-linecap','round');
 poly(c,'fig4-char-mass-line',[[7.2,cm],[10.63,cm]],P.X,P.Y,CYAN,1.2,'1.5 2.5');
 poly(c,'fig4-red-contour',sh(shapeRed1),P.X,P.Y,RED,1.1);
 poly(c,'fig4-red-contour',sh(shapeRed2),P.X,P.Y,RED,1.1);
 poly(c,'fig4-red-contour',sh(shapeRed3),P.X,P.Y,RED,1.1);
 poly(c,'fig4-blue-contour',sh(shapeBlue),P.X,P.Y,BLUE,1.1);
 poly(c,'fig4-blue-inner',sh(shapeBlueInner),P.X,P.Y,BLUE,1.1);
 txt(f4,'fig4-host-label',x0+9,y0+17,fig4HostLabels[k],13,'start','#111','"Liberation Serif",serif');
 if(k%2===0){txt(f4,'fig4-ytick-label',x0-5,P.Y(8)+5,'10⁸',13,'end','#111','"Liberation Serif",serif');txt(f4,'fig4-ytick-label',x0-5,P.Y(7)+5,'10⁷',13,'end','#111','"Liberation Serif",serif');}
 if(k>=2)fig3XTicks.forEach((v,i)=>txt(f4,'fig4-xtick-label',P.X(v),398,fig3XLabels[i],13,'middle','#111','"Liberation Serif",serif'));
});
txt(f4,'fig4-top-ytitle',3802,270,'M₃₀₀  /  M⊙',16,'middle','#111','"Liberation Serif",serif',-90);
txt(f4,'fig4-top-xtitle',3985,430,'Mᵥ  /  M⊙',16,'middle','#111','"Liberation Serif",serif');

// ===== Figure 4 bottom =====
{
 const B=panel(f4,'fig4-projection-panel',3834,466,4135,617,6.5,8.39,0,7078,ticksLog(null,6.5,8.39),ticksLin(0,7078,500,2000),4);
 const c=clipped(B.g,'fig4-projection-plot',3834,466,4135,617);
 poly(c,'fig4-char-mass-line',[[fig4CharLine,0],[fig4CharLine,7078]],B.X,B.Y,CYAN,1.2,'1.5 2.5');
 const z=a=>fig4Bins.map((m,i)=>[m,a[i]]);
 [fig4AllA,fig4AllB,fig4AllC,fig4AllD].forEach(a=>poly(c,'fig4-all-halos-curve',z(a),B.X,B.Y,'#f07070',1.1));
 [fig4CoolA,fig4CoolB,fig4CoolC,fig4CoolD].forEach(a=>poly(c,'fig4-cooled-curve',z(a),B.X,B.Y,BLUE,1.1,'7 4'));
 fig4YTicks.forEach(v=>txt(f4,'fig4-proj-ytick-label',3826,B.Y(v)+5,String(v),14,'end','#111','"Liberation Serif",serif'));
 fig4XTicks.forEach((v,i)=>txt(f4,'fig4-proj-xtick-label',B.X(v),633,fig4XLabels[i],13,'middle','#111','"Liberation Serif",serif'));
 txt(f4,'fig4-proj-ytitle',3787,545,'dN / d log(M₃₀₀/M⊙)',15,'middle','#111','"Liberation Mono",monospace',-90);
 txt(f4,'fig4-proj-xtitle',3985,656,'M₃₀₀  /  M⊙',16,'middle','#111','"Liberation Serif",serif');
 txt(f4,'fig4-host-key',3846,488,'M_host = 0.5 \u00a0 1 \u00a0\u00a0 2 \u00a0\u00a0 4 x 10¹²M⊙',12,'start',RED,'"Liberation Serif",serif');
 seg(f4,4024,506,4063,506,'#f07070',1.2);
 txt(f4,'fig4-legend-all',4071,511,'All halos',13,'start',RED,'"Liberation Mono",monospace');
 const dl=seg(f4,4024,535,4063,535,BLUE,1.2);dl.setAttribute('stroke-dasharray','6 4');
 txt(f4,'fig4-legend-cooled-1',4071,526,'With',13,'start',BLUE,'"Liberation Mono",monospace');
 txt(f4,'fig4-legend-cooled-2',4071,539,'cooled',13,'start',BLUE,'"Liberation Mono",monospace');
 txt(f4,'fig4-legend-cooled-3',4071,551,'baryons',13,'start',BLUE,'"Liberation Mono",monospace');
}
</script>
</body></html>
